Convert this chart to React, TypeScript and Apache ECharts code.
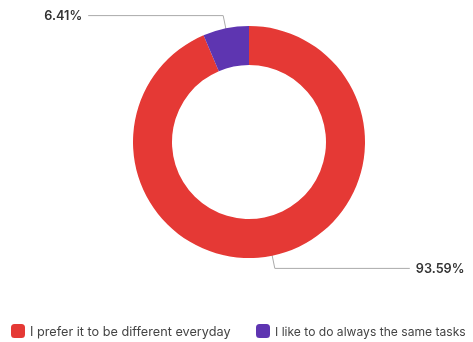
import React, { useEffect, useRef } from "react";
import * as echarts from "echarts";

const categories = ["I prefer it to be different everyday", "I like to do always the same tasks"];
const values = [93.59, 6.41];
const colors = ["#E53935", "#5E35B1"];

export default function App() {
  const ref = useRef<HTMLDivElement>(null);
  useEffect(() => {
    if (!ref.current) return;
    const chart = echarts.init(ref.current, null, { renderer: "svg" });
    const data = categories.map((name, i) => ({ name, value: values[i], itemStyle: { color: colors[i] } }));
    const legendLefts = [11, 256];
    const legendFontSizes = [12.7, 12.1];
    chart.setOption({
      animation: false,
      textStyle: { fontFamily: "Inter, sans-serif" },
      legend: categories.map((name, i) => ({
        data: [name],
        left: legendLefts[i],
        top: 324,
        itemWidth: 14,
        itemHeight: 14,
        icon: "roundRect",
        padding: 0,
        textStyle: { fontSize: legendFontSizes[i], color: "#444", fontFamily: "Inter, sans-serif" },
      })),
      series: [
        {
          type: "pie",
          center: [249, 142],
          radius: [77, 116],
          startAngle: 90,
          clockwise: true,
          label: { show: false },
          labelLine: { show: false },
          data,
        },
        {
          type: "pie",
          center: [249, 142],
          radius: [0, 95],
          startAngle: 90,
          clockwise: true,
          silent: true,
          itemStyle: { color: "transparent" },
          emphasis: { disabled: true },
          label: {
            show: true,
            formatter: (p: any) => p.value.toFixed(2) + "%",
            fontSize: 12.7,
            fontWeight: 600,
            color: "#333",
            fontFamily: "Inter, sans-serif",
            distanceToLabelLine: 6,
            overflow: "none",
            edgeDistance: 0,
          },
          labelLine: {
            show: true,
            length: 34,
            length2: 135,
            lineStyle: { color: "#aaa", width: 1 },
          },
          data: categories.map((name, i) => ({ name, value: values[i], itemStyle: { color: "transparent" } })),
        },
      ],
    });
    return () => chart.dispose();
  }, []);
  return <div ref={ref} style={{ position: "fixed", left: 0, top: 0, width: 473, height: 342 }} />;
}
